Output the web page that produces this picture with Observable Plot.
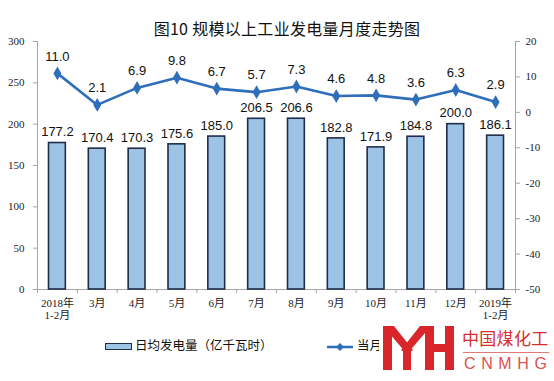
<!DOCTYPE html>
<html>
<head>
<meta charset="utf-8">
<script src="https://cdn.jsdelivr.net/npm/d3@7"></script>
<script src="https://cdn.jsdelivr.net/npm/@observablehq/plot@0.6"></script>
<style>
  html, body { margin: 0; padding: 0; background: #fff; }
  body { width: 554px; height: 381px; position: relative; overflow: hidden; font-family: "Noto Sans CJK SC", "Liberation Sans", sans-serif; }
  #title { position: absolute; left: 0; width: 554px; top: 16px; text-align: center; font-size: 16px; color: #111; padding-left: 20px; box-sizing: border-box; letter-spacing: 0.3px; }
  #chart { position: absolute; left: 0; top: 30px; }
  .leg { position: absolute; font-size: 12.5px; color: #111; line-height: 14px; }
  .logo { position: absolute; }
</style>
</head>
<body>
<div id="title">图10 规模以上工业发电量月度走势图</div>
<div id="chart"></div>

<div class="leg" style="left:105px; top:343px; width:25px; height:5px; background:#9dc3e6; border:1.5px solid #1f2d4a;"></div>
<div class="leg" style="left:135px; top:338px;">日均发电量（亿千瓦时）</div>
<svg class="leg" style="left:326px; top:340px;" width="28" height="14"><line x1="1" y1="7" x2="27" y2="7" stroke="#2f6eba" stroke-width="2.5"/><path d="M14,3 L18,7 L14,11 L10,7 Z" fill="#2f6eba"/></svg>
<div class="leg" style="left:357px; top:338px;">当月增速（%）</div>

<div class="logo" style="left:379px; top:326px; width:175px; height:55px; background:#fff;"></div>
<svg class="logo" style="left:383px; top:326px;" width="72" height="46">
  <g fill="#d9262b">
    <rect x="0" y="0" width="9" height="44"/>
    <polygon points="0,0 11,0 30,24 24,28"/>
    <polygon points="48,0 37,0 18,24 24,28"/>
    <rect x="20" y="22" width="8" height="22"/>
    <rect x="42" y="0" width="9" height="44"/>
    <rect x="51" y="18" width="11" height="8"/>
    <rect x="62" y="0" width="9" height="44"/>
  </g>
</svg>
<div class="logo" style="left:462px; top:328px; font-size:17px; color:#d42e2c; line-height:20px; letter-spacing:0.3px;">中国煤化工</div>
<div class="logo" style="left:463px; top:352px; width:86px; height:1px; background:#e07a78;"></div>
<div class="logo" style="left:464px; top:354px; font-size:16px; font-family:'Liberation Sans',sans-serif; color:#d9534f; letter-spacing:5.6px; line-height:20px; white-space:nowrap;">CNMHG</div>

<script>
const months = ["2018年\n1-2月","3月","4月","5月","6月","7月","8月","9月","10月","11月","12月","2019年\n1-2月"];
const dailyOutput = [177.2,170.4,170.3,175.6,185.0,206.5,206.6,182.8,171.9,184.8,200.0,186.1];
const growthRate = [11.0,2.1,6.9,9.8,6.7,5.7,7.3,4.6,4.8,3.6,6.3,2.9];
const leftTicks = [0,50,100,150,200,250,300];
const rightTicks = [-50,-40,-30,-20,-10,0,10,20];

const rightMin = -50, rightMax = 20, leftMax = 300;
const toLeft = g => (g - rightMin) * leftMax / (rightMax - rightMin);
const fromLeft = v => String(Math.round(v * (rightMax - rightMin) / leftMax + rightMin));

const rows = months.map((m, i) => ({i, m, v: dailyOutput[i], g: growthRate[i]}));

const axisColor = "#a6a6a6";
const tickFont = "'Liberation Serif', 'Noto Sans CJK SC', serif";
const labelFont = "'Liberation Sans', Arial, sans-serif";
const lineColor = "#2f6eba";

const chart = Plot.plot({
  width: 554,
  height: 295,
  marginTop: 11,
  marginBottom: 36,
  marginLeft: 37,
  marginRight: 39,
  style: {background: "transparent", color: "#333"},
  x: {domain: [0, months.length], label: null},
  y: {domain: [0, leftMax], label: null},
  marks: [
    Plot.ruleX([0, months.length], {stroke: axisColor}),
    Plot.ruleY([0], {stroke: axisColor}),
    Plot.axisX(d3.range(months.length + 1), {tickSize: 4, stroke: axisColor, tickFormat: () => "", label: null}),
    Plot.axisX(d3.range(months.length).map(i => i + 0.5), {
      tickSize: 0, tickPadding: 9, tickFormat: d => months[Math.floor(d)], label: null,
      fontSize: 11, lineHeight: 1.1, fontFamily: tickFont, fill: "#222"
    }),
    Plot.axisY(leftTicks, {anchor: "left", tickSize: 4, tickPadding: 9, stroke: axisColor, label: null, tickFormat: d => String(d), fontSize: 11, fontFamily: tickFont, fill: "#222"}),
    Plot.axisY(rightTicks.map(toLeft), {anchor: "right", tickSize: 4, tickPadding: 6, stroke: axisColor, label: null, tickFormat: fromLeft, fontSize: 11, fontFamily: tickFont, fill: "#222"}),
    Plot.rectY(rows, {x1: d => d.i, x2: d => d.i + 1, y: "v", insetLeft: 11.5, insetRight: 11.5, fill: "#9dc3e6", stroke: "#1f2d4a", strokeWidth: 1.6}),
    Plot.text(rows, {x: d => d.i + 0.5, y: "v", text: d => d.v.toFixed(1), dy: -11, fontSize: 13, fontFamily: labelFont, fill: "#111"}),
    Plot.line(rows, {x: d => d.i + 0.5, y: d => toLeft(d.g), stroke: lineColor, strokeWidth: 2.6}),
    Plot.dot(rows, {x: d => d.i + 0.5, y: d => toLeft(d.g), symbol: "diamond", r: 4.2, fill: lineColor, stroke: "none"}),
    Plot.text(rows, {x: d => d.i + 0.5, y: d => toLeft(d.g), text: d => d.g.toFixed(1), dy: -17, fontSize: 13, fontFamily: labelFont, fill: "#111"})
  ]
});
document.getElementById("chart").appendChild(chart);
</script>
</body>
</html>
